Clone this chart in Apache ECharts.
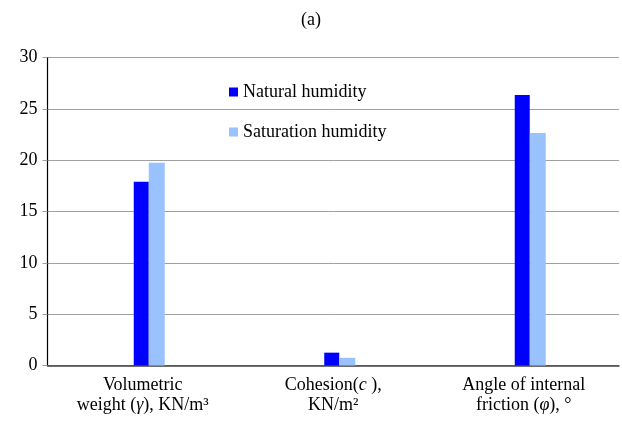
<!DOCTYPE html>
<html>
<head>
<meta charset="utf-8">
<script src="https://cdn.jsdelivr.net/npm/echarts@6/dist/echarts.min.js"></script>
<style>
  html, body { margin: 0; padding: 0; background: #fff; }
  #chartBox { width: 622px; height: 430px; }
</style>
</head>
<body>
<div id="chartBox"></div>
<script>
// category labels (rich text: n = normal, i = italic)
const categories = [
  "{n|Volumetric}\n{n|weight (}{i|γ}{n|), KN/m³}",
  "{n|Cohesion(}{i|c}{n| ),}\n{n|KN/m²}",
  "{n|Angle of internal}\n{n|friction (}{i|φ}{n|), °}",
];
const naturalHumidity = [17.9, 1.25, 26.35];
const saturationHumidity = [19.75, 0.75, 22.65];
const spacer = ["-", "-", "-"]; // empty slot Excel leaves in front of each group
const yTicks = { min: 0, max: 30, interval: 5 };

const font = "Liberation Serif";
const fontSize = 18;
const myChart = echarts.init(document.getElementById("chartBox"));

const option = {
  animation: false,
  backgroundColor: "#fff",
  title: {
    text: "(a)",
    left: "center",
    top: 6,
    textStyle: { fontFamily: font, fontSize: fontSize, fontWeight: "normal", color: "#000" },
  },
  legend: {
    data: ["Natural humidity", "Saturation humidity"],
    orient: "vertical",
    left: 224,
    top: 78,
    itemWidth: 9,
    itemHeight: 9,
    itemGap: 22,
    icon: "rect",
    textStyle: { fontFamily: font, fontSize: fontSize, color: "#000" },
  },
  grid: {
    left: 47.5,
    right: 3,
    top: 57.5,
    bottom: 64.5,
  },
  xAxis: {
    type: "category",
    data: categories,
    axisLine: { lineStyle: { color: "#404040", width: 1.5 } },
    axisTick: { length: 6, lineStyle: { color: "#a0a0a0" } },
    axisLabel: {
      margin: 10,
      interval: 0,
      color: "#000",
      rich: {
        n: { fontFamily: font, fontSize: fontSize, lineHeight: 20, color: "#000" },
        i: { fontFamily: font, fontSize: fontSize, lineHeight: 20, fontStyle: "italic", color: "#000" },
      },
    },
  },
  yAxis: {
    type: "value",
    min: yTicks.min,
    max: yTicks.max,
    interval: yTicks.interval,
    axisLine: { show: true, lineStyle: { color: "#000", width: 1.2 } },
    axisTick: { show: true, length: 5, lineStyle: { color: "#a0a0a0" } },
    axisLabel: { margin: 10, fontFamily: font, fontSize: fontSize, color: "#000" },
    splitLine: { lineStyle: { color: "#a0a0a0", width: 1 } },
  },
  series: [
    {
      name: "spacer",
      type: "bar",
      data: spacer,
      barWidth: 13,
      barGap: 0,
      silent: true,
    },
    {
      name: "Natural humidity",
      type: "bar",
      data: naturalHumidity,
      barWidth: 15,
      barGap: 0,
      itemStyle: { color: "#0000ff" },
    },
    {
      name: "Saturation humidity",
      type: "bar",
      data: saturationHumidity,
      barWidth: 16,
      barGap: 0,
      itemStyle: { color: "#99c2ff" },
    },
  ],
};
myChart.setOption(option);
</script>
</body>
</html>
